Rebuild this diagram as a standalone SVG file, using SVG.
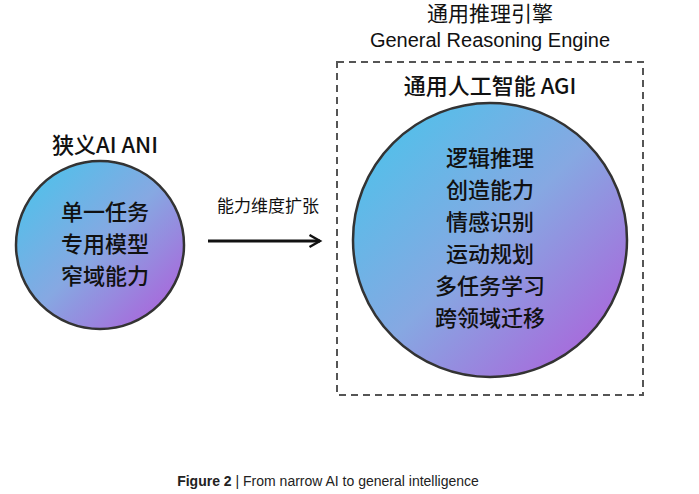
<svg xmlns="http://www.w3.org/2000/svg" width="699" height="494" viewBox="0 0 699 494">
<defs>
<linearGradient id="g" x1="0.15" y1="0.15" x2="0.85" y2="0.85">
<stop offset="0" stop-color="#58bde9"/>
<stop offset="0.5" stop-color="#86a8e2"/>
<stop offset="1" stop-color="#a56fdc"/>
</linearGradient>
<marker id="ah" viewBox="0 0 10 10" refX="8" refY="5" markerWidth="5" markerHeight="5" orient="auto" markerUnits="strokeWidth">
<path d="M1,1 L8,5 L1,9" fill="none" stroke="#111" stroke-width="1.6"/>
</marker>
<style>
text{font-family:"Noto Sans CJK SC","Noto Sans",sans-serif;fill:#111;text-anchor:middle}
.c{fill:url(#g);stroke:#333;stroke-width:2.5}
.t{font-size:22px;font-weight:500}
.h{font-size:22px;font-weight:500}
</style>
</defs>
<rect width="699" height="494" fill="#fff"/>
<g id="ani">
<text class="h" x="105" y="153">狭义AI ANI</text>
<circle class="c" cx="100" cy="245" r="84"/>
<text class="t" x="105" y="220">单一任务</text>
<text class="t" x="105" y="252">专用模型</text>
<text class="t" x="105" y="284">窄域能力</text>
</g>
<g id="engine">
<text x="490" y="21" style="font-size:21px">通用推理引擎</text>
<text x="490" y="47" style="font-size:20px;font-family:'Liberation Sans',sans-serif">General Reasoning Engine</text>
<rect x="337" y="62" width="306" height="333" fill="none" stroke="#555" stroke-width="2" stroke-dasharray="7,5"/>
</g>
<g id="agi">
<text class="h" x="490" y="94">通用人工智能 AGI</text>
<circle class="c" cx="490" cy="240" r="137"/>
<text class="t" x="490" y="166">逻辑推理</text>
<text class="t" x="490" y="198">创造能力</text>
<text class="t" x="490" y="230">情感识别</text>
<text class="t" x="490" y="262">运动规划</text>
<text class="t" x="490" y="294">多任务学习</text>
<text class="t" x="490" y="326">跨领域迁移</text>
</g>
<g id="connectors">
<text x="268" y="212" style="font-size:17px">能力维度扩张</text>
<line x1="208" y1="241" x2="320" y2="241" stroke="#111" stroke-width="3" marker-end="url(#ah)"/>
</g>
<text x="328" y="486" style="font-size:14px;font-family:'Liberation Sans',sans-serif;fill:#222"><tspan font-weight="bold">Figure 2</tspan> | From narrow AI to general intelligence</text>
</svg>
